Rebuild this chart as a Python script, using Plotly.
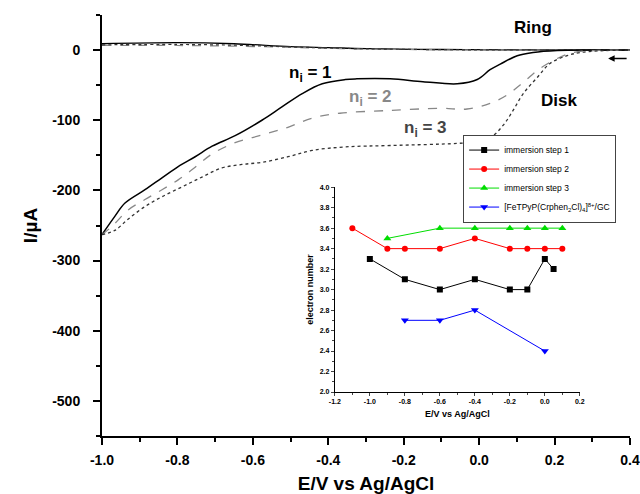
import plotly.graph_objects as go

# ---- Main RRDE data (E/V vs Ag/AgCl, I/uA) ----
disk1_E = [-1.0, -0.966, -0.939, -0.886, -0.841, -0.798, -0.753, -0.708, -0.647, -0.576, -0.523, -0.469,
           -0.416, -0.355, -0.324, -0.236, -0.149, -0.058, -0.005, 0.029, 0.056, 0.101, 0.143, 0.207, 0.3, 0.4]
disk1_I = [-263, -237, -218, -199, -182, -166, -152, -137, -122, -100, -81, -62,
           -48, -42, -41, -41, -45, -48, -42, -28, -20, -8, -3.5, -0.7, 0, 0]

disk2_E = [-1.0, -0.973, -0.931, -0.886, -0.841, -0.798, -0.753, -0.708, -0.647, -0.576, -0.507, -0.443,
           -0.369, -0.236, -0.103, -0.032, 0.029, 0.074, 0.117, 0.162, 0.207, 0.249, 0.32, 0.4]
disk2_I = [-263, -251, -228, -213, -199, -185, -167, -148, -132, -121, -110, -97,
           -90, -86, -83, -84, -76, -64, -46, -26, -12, -3.5, -0.5, 0]

disk3_E = [-1.0, -0.966, -0.931, -0.886, -0.841, -0.788, -0.735, -0.682, -0.629, -0.576, -0.507, -0.443,
           -0.355, -0.236, -0.058, -0.016, 0.029, 0.064, 0.09, 0.117, 0.154, 0.188, 0.233, 0.268, 0.32, 0.4]
disk3_I = [-263, -257, -241, -223, -209, -195, -181, -168, -163, -160, -152, -143,
           -138, -136, -133, -131, -125, -107, -86, -62, -39, -19, -8, -3.5, -1, 0]

ring_E = [-1.0, -0.8, -0.65, -0.5, -0.4, -0.3, -0.1, 0.1, 0.4]
ring1_I = [9, 10.5, 9, 5, 3.5, 2, 0.8, 0.3, 0]
ring2_I = [6.5, 6.5, 5.5, 4, 2.5, 1.5, 0.5, 0.2, 0]
ring3_I = [7.5, 8, 7, 4.5, 3, 1.8, 0.6, 0.2, 0]

main_xticks = [-1.0, -0.8, -0.6, -0.4, -0.2, 0.0, 0.2, 0.4]
main_xlabels = ["-1.0", "-0.8", "-0.6", "-0.4", "-0.2", "0.0", "0.2", "0.4"]
main_yticks = [0, -100, -200, -300, -400, -500]
main_ylabels = ["0", "-100", "-200", "-300", "-400", "-500"]

# ---- Inset data (electron number) ----
step1_E = [-1.0, -0.8, -0.6, -0.4, -0.2, -0.1, 0.0, 0.05]
step1_n = [3.3, 3.1, 3.0, 3.1, 3.0, 3.0, 3.3, 3.2]
step2_E = [-1.1, -0.9, -0.8, -0.6, -0.4, -0.2, -0.1, 0.0, 0.1]
step2_n = [3.6, 3.4, 3.4, 3.4, 3.5, 3.4, 3.4, 3.4, 3.4]
step3_E = [-0.9, -0.6, -0.4, -0.2, -0.1, 0.0, 0.1]
step3_n = [3.5, 3.6, 3.6, 3.6, 3.6, 3.6, 3.6]
gc_E = [-0.8, -0.6, -0.4, 0.0]
gc_n = [2.7, 2.7, 2.8, 2.4]

inset_xticks = [-1.2, -1.0, -0.8, -0.6, -0.4, -0.2, 0.0, 0.2]
inset_xlabels = ["-1.2", "-1.0", "-0.8", "-0.6", "-0.4", "-0.2", "0.0", "0.2"]
inset_yticks = [2.0, 2.2, 2.4, 2.6, 2.8, 3.0, 3.2, 3.4, 3.6, 3.8, 4.0]
inset_ylabels = ["2.0", "2.2", "2.4", "2.6", "2.8", "3.0", "3.2", "3.4", "3.6", "3.8", "4.0"]

FONT = "Liberation Sans, Arial, sans-serif"

fig = go.Figure()

# ring curves
fig.add_trace(go.Scatter(x=ring_E, y=ring1_I, mode="lines", line=dict(color="black", width=1.3, shape="spline"), showlegend=False))
fig.add_trace(go.Scatter(x=ring_E, y=ring2_I, mode="lines", line=dict(color="#888888", width=1.2, dash="dash", shape="spline"), showlegend=False))
fig.add_trace(go.Scatter(x=ring_E, y=ring3_I, mode="lines", line=dict(color="#333333", width=1.2, dash="dot", shape="spline"), showlegend=False))
# disk curves
fig.add_trace(go.Scatter(x=disk1_E, y=disk1_I, mode="lines", line=dict(color="black", width=1.5, shape="spline", smoothing=1.0), showlegend=False))
fig.add_trace(go.Scatter(x=disk2_E, y=disk2_I, mode="lines", line=dict(color="#888888", width=1.3, dash="dash", shape="spline", smoothing=1.0), showlegend=False))
fig.add_trace(go.Scatter(x=disk3_E, y=disk3_I, mode="lines", line=dict(color="#333333", width=1.3, dash="dot", shape="spline", smoothing=1.0), showlegend=False))

# inset traces
fig.add_trace(go.Scatter(x=step1_E, y=step1_n, mode="lines+markers", name="immersion step 1",
                         line=dict(color="black", width=1), marker=dict(symbol="square", size=6, color="black"),
                         xaxis="x2", yaxis="y2"))
fig.add_trace(go.Scatter(x=step2_E, y=step2_n, mode="lines+markers", name="immersion step 2",
                         line=dict(color="#ff0000", width=1), marker=dict(symbol="circle", size=6, color="#ff0000"),
                         xaxis="x2", yaxis="y2"))
fig.add_trace(go.Scatter(x=step3_E, y=step3_n, mode="lines+markers", name="immersion step 3",
                         line=dict(color="#00dd00", width=1), marker=dict(symbol="triangle-up", size=7, color="#00dd00"),
                         xaxis="x2", yaxis="y2"))
fig.add_trace(go.Scatter(x=gc_E, y=gc_n, mode="lines+markers",
                         name="[FeTPyP(Crphen<sub>2</sub>Cl)<sub>4</sub>]<sup>8+</sup>/GC",
                         line=dict(color="#0000ff", width=1), marker=dict(symbol="triangle-down", size=7, color="#0000ff"),
                         xaxis="x2", yaxis="y2"))

bold14 = dict(size=14, family=FONT, color="black", weight="bold")
bold7 = dict(size=7, family=FONT, color="black", weight="bold")

fig.update_layout(
    width=640, height=494,
    margin=dict(l=102, r=10, t=15, b=58, autoexpand=False),
    plot_bgcolor="white", paper_bgcolor="white",
    font=dict(family=FONT, color="black"),
    xaxis=dict(range=[-1.0, 0.4], domain=[0, 1], showline=True, linecolor="black", linewidth=2, automargin=False,
               ticks="outside", ticklen=7, tickwidth=2, tickcolor="black",
               tickmode="array", tickvals=main_xticks, ticktext=main_xlabels, ticklabelstandoff=3,
               minor=dict(ticks="outside", ticklen=4, tickwidth=2, dtick=0.1, tick0=0, tickcolor="black"),
               showgrid=False, zeroline=False, tickfont=bold14,
               title=dict(text="<b>E/V vs Ag/AgCl</b>", font=dict(size=19, family=FONT), standoff=12)),
    yaxis=dict(range=[-550, 50], domain=[0, 1], showline=True, linecolor="black", linewidth=2, automargin=False,
               ticks="outside", ticklen=7, tickwidth=2, tickcolor="black",
               tickmode="array", tickvals=main_yticks, ticktext=main_ylabels, ticklabelstandoff=10,
               minor=dict(ticks="outside", ticklen=4, tickwidth=2, dtick=50, tick0=0, tickcolor="black"),
               showgrid=False, zeroline=False, tickfont=bold14,
               title=dict(text="<b>I/µA</b>", font=dict(size=19, family=FONT), standoff=10)),
    xaxis2=dict(range=[-1.2, 0.2], domain=[0.441, 0.905], anchor="y2", showline=True, linecolor="black", linewidth=1,
                ticks="outside", ticklen=3, tickwidth=1, automargin=False,
                tickmode="array", tickvals=inset_xticks, ticktext=inset_xlabels,
                minor=dict(ticks="outside", ticklen=2, tickwidth=1, dtick=0.1, tick0=0),
                showgrid=False, zeroline=False, tickfont=bold7,
                title=dict(text="<b>E/V vs Ag/AgCl</b>", font=dict(size=9, family=FONT), standoff=6)),
    yaxis2=dict(range=[2.0, 4.0], domain=[0.1045, 0.591], anchor="x2", showline=True, linecolor="black", linewidth=1,
                ticks="outside", ticklen=3, tickwidth=1, automargin=False,
                tickmode="array", tickvals=inset_yticks, ticktext=inset_ylabels,
                minor=dict(ticks="outside", ticklen=2, tickwidth=1, dtick=0.1, tick0=0),
                showgrid=False, zeroline=False, tickfont=bold7,
                title=dict(text="<b>electron number</b>", font=dict(size=9, family=FONT), standoff=4)),
    legend=dict(x=0.684, y=0.716, xanchor="left", yanchor="top", bgcolor="white",
                bordercolor="#444444", borderwidth=1, font=dict(size=8.5, family=FONT),
                tracegroupgap=0, itemwidth=30),
)

ann_font = dict(family=FONT, size=17)
fig.add_annotation(x=0.143, y=32, xref="x", yref="y", text="<b>Ring</b>", showarrow=False, font=ann_font)
fig.add_annotation(x=0.212, y=-72, xref="x", yref="y", text="<b>Disk</b>", showarrow=False, font=ann_font)
fig.add_annotation(x=-0.448, y=-34, xref="x", yref="y", text="<b>n<sub>i</sub> = 1</b>", showarrow=False,
                   font=dict(family=FONT, size=17, color="black"))
fig.add_annotation(x=-0.289, y=-68, xref="x", yref="y", text="<b>n<sub>i</sub> = 2</b>", showarrow=False,
                   font=dict(family=FONT, size=17, color="#888888"))
fig.add_annotation(x=-0.143, y=-113, xref="x", yref="y", text="<b>n<sub>i</sub> = 3</b>", showarrow=False,
                   font=dict(family=FONT, size=17, color="#444444"))
fig.add_annotation(x=0.342, y=-12, ax=0.395, ay=-12, xref="x", yref="y", axref="x", ayref="y",
                   text="", showarrow=True, arrowhead=2, arrowsize=1, arrowwidth=1.3, arrowcolor="black")

fig.write_html("out.html")
